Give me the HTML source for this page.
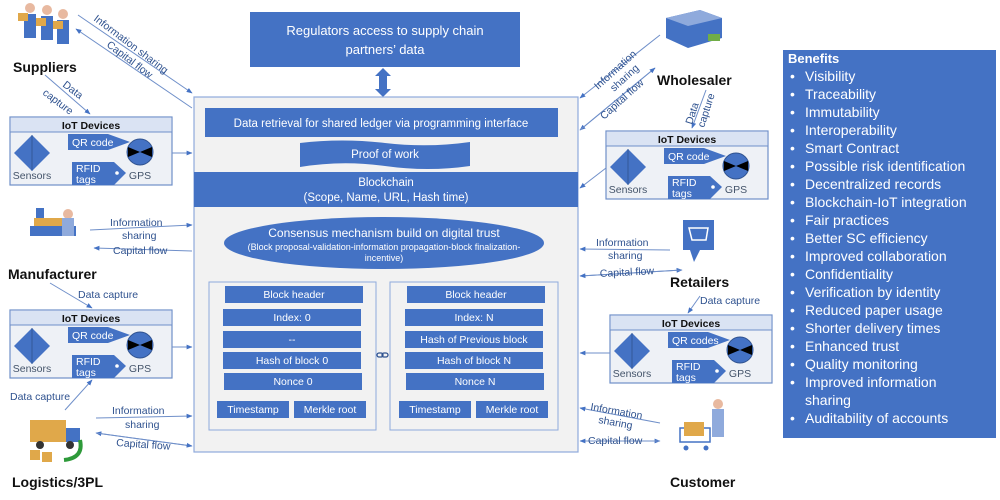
<!DOCTYPE html>
<html><head><meta charset="utf-8"><style>
html,body{margin:0;padding:0;background:#fff;}
svg{display:block;font-family:"Liberation Sans",sans-serif;}
</style></head><body>
<svg width="1000" height="500" viewBox="0 0 1000 500" xmlns="http://www.w3.org/2000/svg">
<defs>
<marker id="ah" viewBox="0 0 10 10" refX="9" refY="5" markerWidth="6" markerHeight="6" orient="auto-start-reverse"><path d="M0,1 L10,5 L0,9 z" fill="#4472c4"/></marker>
<g id="iotshapes">
  <rect x="0" y="0" width="162" height="68" fill="#eef1f6" stroke="#6f8fc9" stroke-width="1.2"/>
  <rect x="0.6" y="0.6" width="160.8" height="14" fill="#dae3f3"/>
  <line x1="0" y1="15" x2="162" y2="15" stroke="#6f8fc9"/>
  <path d="M22,18 L40,36 L22,54 L4,36 z" fill="#4472c4"/>
  <line x1="22" y1="18" x2="22" y2="54" stroke="#2f528f" stroke-width="0.8"/>
  <path d="M58,17 L98,17 L120,25 L98,33 L58,33 z" fill="#4472c4"/>
  <circle cx="130" cy="35" r="13" fill="#4472c4" stroke="#2f528f"/>
  <path d="M118,30 L130,35 L118,40 z M142,30 L130,35 L142,40 z" fill="#000"/>
  <path d="M62,45 L104,45 L116,56 L104,68 L62,68 z" fill="#4472c4"/>
  <circle cx="107" cy="56" r="1.8" fill="#fff"/>
</g>
</defs>

<!-- Regulators -->
<rect x="250" y="12" width="270" height="55" fill="#4472c4"/>
<text x="385" y="35" font-size="13" fill="#fff" text-anchor="middle">Regulators access to supply chain</text>
<text x="385" y="54" font-size="13" fill="#fff" text-anchor="middle">partners’ data</text>
<path d="M383,68 L391,76 L387,76 L387,89 L391,89 L383,97 L375,89 L379,89 L379,76 L375,76 z" fill="#4472c4"/>

<!-- main box -->
<rect x="194" y="97" width="384" height="355" fill="#f2f2f2" stroke="#8faadc" stroke-width="1.2"/>
<rect x="205" y="108" width="353" height="29" fill="#4472c4"/>
<text x="381" y="127" font-size="11.5" fill="#fff" text-anchor="middle">Data retrieval for shared ledger via programming interface</text>
<path d="M300,143 Q342,138 385,143 Q428,148 470,142 L470,166 Q428,172 385,166 Q342,160 300,167 z" fill="#4472c4"/>
<text x="385" y="158" font-size="11.5" fill="#fff" text-anchor="middle">Proof of work</text>
<rect x="194" y="172" width="384" height="35" fill="#4472c4"/>
<text x="386" y="186" font-size="11.5" fill="#fff" text-anchor="middle">Blockchain</text>
<text x="386" y="201" font-size="11.5" fill="#fff" text-anchor="middle">(Scope, Name, URL, Hash time)</text>
<ellipse cx="384" cy="243" rx="160" ry="26" fill="#4472c4"/>
<text x="384" y="237" font-size="12" fill="#fff" text-anchor="middle">Consensus mechanism build on digital trust</text>
<text x="384" y="250" font-size="9" fill="#fff" text-anchor="middle">(Block proposal-validation-information propagation-block finalization-</text>
<text x="384" y="261" font-size="9" fill="#fff" text-anchor="middle">incentive)</text>

<!-- blocks -->
<g font-size="10.5" fill="#fff" text-anchor="middle">
<rect x="209" y="282" width="167" height="148" fill="#f2f2f2" stroke="#8faadc"/>
<rect x="390" y="282" width="168" height="148" fill="#f2f2f2" stroke="#8faadc"/>
<rect x="225" y="286" width="138" height="17" fill="#4472c4"/><text x="294" y="298">Block header</text>
<rect x="223" y="309" width="138" height="17" fill="#4472c4"/><text x="292" y="321">Index: 0</text>
<rect x="223" y="331" width="138" height="17" fill="#4472c4"/><text x="292" y="343">--</text>
<rect x="223" y="352" width="138" height="17" fill="#4472c4"/><text x="292" y="364">Hash of block 0</text>
<rect x="224" y="373" width="138" height="17" fill="#4472c4"/><text x="293" y="385">Nonce 0</text>
<rect x="217" y="401" width="72" height="17" fill="#4472c4"/><text x="253" y="413">Timestamp</text>
<rect x="294" y="401" width="72" height="17" fill="#4472c4"/><text x="330" y="413">Merkle root</text>
<rect x="407" y="286" width="138" height="17" fill="#4472c4"/><text x="476" y="298">Block header</text>
<rect x="405" y="309" width="138" height="17" fill="#4472c4"/><text x="474" y="321">Index: N</text>
<rect x="405" y="331" width="138" height="17" fill="#4472c4"/><text x="474" y="343">Hash of Previous block</text>
<rect x="405" y="352" width="138" height="17" fill="#4472c4"/><text x="474" y="364">Hash of block N</text>
<rect x="406" y="373" width="138" height="17" fill="#4472c4"/><text x="475" y="385">Nonce N</text>
<rect x="399" y="401" width="72" height="17" fill="#4472c4"/><text x="435" y="413">Timestamp</text>
<rect x="476" y="401" width="72" height="17" fill="#4472c4"/><text x="512" y="413">Merkle root</text>
</g>
<g fill="none" stroke="#2f528f" stroke-width="1.3"><rect x="377" y="353" width="6" height="4" rx="2"/><rect x="382" y="353" width="6" height="4" rx="2"/></g>

<!-- IoT boxes -->
<g font-size="10.5">
<g transform="translate(10,117)"><use href="#iotshapes"/><text x="81" y="12" font-weight="bold" text-anchor="middle" fill="#111">IoT Devices</text><text x="22" y="62" text-anchor="middle" fill="#44546a">Sensors</text><text x="62" y="29" fill="#fff">QR code</text><text x="130" y="62" text-anchor="middle" fill="#44546a">GPS</text><text x="66" y="55" fill="#fff">RFID</text><text x="66" y="66" fill="#fff">tags</text></g>
<g transform="translate(10,310)"><use href="#iotshapes"/><text x="81" y="12" font-weight="bold" text-anchor="middle" fill="#111">IoT Devices</text><text x="22" y="62" text-anchor="middle" fill="#44546a">Sensors</text><text x="62" y="29" fill="#fff">QR code</text><text x="130" y="62" text-anchor="middle" fill="#44546a">GPS</text><text x="66" y="55" fill="#fff">RFID</text><text x="66" y="66" fill="#fff">tags</text></g>
<g transform="translate(606,131)"><use href="#iotshapes"/><text x="81" y="12" font-weight="bold" text-anchor="middle" fill="#111">IoT Devices</text><text x="22" y="62" text-anchor="middle" fill="#44546a">Sensors</text><text x="62" y="29" fill="#fff">QR code</text><text x="130" y="62" text-anchor="middle" fill="#44546a">GPS</text><text x="66" y="55" fill="#fff">RFID</text><text x="66" y="66" fill="#fff">tags</text></g>
<g transform="translate(610,315)"><use href="#iotshapes"/><text x="81" y="12" font-weight="bold" text-anchor="middle" fill="#111">IoT Devices</text><text x="22" y="62" text-anchor="middle" fill="#44546a">Sensors</text><text x="62" y="29" fill="#fff">QR codes</text><text x="130" y="62" text-anchor="middle" fill="#44546a">GPS</text><text x="66" y="55" fill="#fff">RFID</text><text x="66" y="66" fill="#fff">tags</text></g>
</g>

<!-- connectors -->
<g stroke="#6f8fc9" stroke-width="1" fill="none" marker-end="url(#ah)">
<line x1="78" y1="15" x2="192" y2="93"/>
<line x1="192" y1="108" x2="76" y2="29"/>
<line x1="45" y1="75" x2="90" y2="114"/>
<line x1="172" y1="153" x2="192" y2="153"/>
<line x1="90" y1="230" x2="192" y2="225"/>
<line x1="192" y1="251" x2="94" y2="248"/>
<line x1="50" y1="283" x2="92" y2="308"/>
<line x1="172" y1="347" x2="192" y2="347"/>
<line x1="65" y1="410" x2="92" y2="380"/>
<line x1="96" y1="418" x2="192" y2="416"/>
<line x1="192" y1="446" x2="96" y2="433"/>
<line x1="660" y1="35" x2="580" y2="98"/>
<line x1="655" y1="68" x2="580" y2="130"/>
<line x1="580" y1="130" x2="655" y2="68"/>
<line x1="706" y1="90" x2="692" y2="128"/>
<line x1="606" y1="168" x2="580" y2="188"/>
<line x1="670" y1="250" x2="580" y2="249"/>
<line x1="580" y1="276" x2="682" y2="270"/>
<line x1="682" y1="270" x2="580" y2="276"/>
<line x1="700" y1="296" x2="688" y2="313"/>
<line x1="610" y1="353" x2="580" y2="353"/>
<line x1="660" y1="423" x2="580" y2="408"/>
<line x1="580" y1="441" x2="660" y2="441"/>
<line x1="660" y1="441" x2="580" y2="441"/>
<line x1="96" y1="433" x2="192" y2="446"/>
</g>

<!-- connector labels -->
<g font-size="10.5" fill="#2f528f">
<text transform="translate(93,20) rotate(37)">Information sharing</text>
<text transform="translate(106,46) rotate(37)">Capital flow</text>
<text transform="translate(62,86) rotate(37)">Data</text>
<text transform="translate(42,94) rotate(37)">capture</text>
<text x="110" y="226">Information</text><text x="122" y="239">sharing</text>
<text x="113" y="254">Capital flow</text>
<text x="78" y="298">Data capture</text>
<text x="10" y="400">Data capture</text>
<text x="112" y="414">Information</text><text x="125" y="428">sharing</text>
<text x="116" y="446" transform="rotate(4 116 446)">Capital flow</text>
<text transform="translate(598,90) rotate(-42)">Information</text>
<text transform="translate(614,92) rotate(-42)">sharing</text>
<text transform="translate(604,120) rotate(-42)">Capital flow</text>
<text transform="translate(692,125) rotate(-72)">Data</text>
<text transform="translate(704,128) rotate(-72)">capture</text>
<text x="596" y="246">Information</text><text x="608" y="259">sharing</text>
<text x="600" y="277" transform="rotate(-3 600 277)">Capital flow</text>
<text x="700" y="304">Data capture</text>
<text x="590" y="410" transform="rotate(10 590 410)">Information</text><text x="598" y="423" transform="rotate(10 598 423)">sharing</text>
<text x="588" y="444">Capital flow</text>
</g>

<!-- actor labels -->
<g font-size="14" font-weight="bold" fill="#111">
<text x="13" y="72">Suppliers</text>
<text x="8" y="279">Manufacturer</text>
<text x="12" y="487">Logistics/3PL</text>
<text x="657" y="85">Wholesaler</text>
<text x="670" y="287">Retailers</text>
<text x="670" y="487">Customer</text>
</g>

<!-- actor icons (approx) -->
<g fill="#4472c4">
<circle cx="30" cy="8" r="5" fill="#e8b9a0"/><circle cx="47" cy="10" r="5" fill="#e8b9a0"/><circle cx="63" cy="14" r="5" fill="#e8b9a0"/>
<rect x="24" y="14" width="12" height="24"/><rect x="41" y="16" width="12" height="24"/><rect x="57" y="20" width="12" height="24"/>
<rect x="18" y="13" width="10" height="8" fill="#e0a84a"/><rect x="36" y="18" width="10" height="8" fill="#e0a84a"/><rect x="53" y="21" width="10" height="8" fill="#e0a84a"/>
<path d="M666,18 L700,10 L722,18 L722,38 L688,48 L666,38 z" fill="#4472c4"/>
<path d="M666,18 L700,10 L722,18 L688,26 z" fill="#8faadc"/>
<rect x="708" y="34" width="12" height="7" fill="#70ad47"/>
<rect x="34" y="218" width="38" height="8" fill="#e0a84a"/>
<rect x="30" y="226" width="46" height="10" fill="#4472c4"/>
<circle cx="68" cy="214" r="5" fill="#e8b9a0"/><rect x="62" y="218" width="12" height="18" fill="#8faadc"/>
<rect x="36" y="208" width="8" height="10"/>
<rect x="30" y="420" width="36" height="22" fill="#e0a84a"/>
<rect x="66" y="428" width="14" height="14" fill="#4472c4"/>
<circle cx="40" cy="445" r="4" fill="#333"/><circle cx="70" cy="445" r="4" fill="#333"/>
<rect x="30" y="450" width="10" height="10" fill="#e0a84a"/><rect x="42" y="452" width="10" height="10" fill="#e0a84a"/>
<path d="M64,460 Q84,458 80,440" stroke="#2e9a3a" stroke-width="4" fill="none"/>
<path d="M683,220 L714,220 L714,250 L700,250 L694,262 L690,250 L683,250 z" fill="#4472c4"/>
<path d="M689,228 L708,228 L706,240 L692,240 z" fill="none" stroke="#fff" stroke-width="1.5"/>
<circle cx="718" cy="404" r="5" fill="#e8b9a0"/>
<rect x="712" y="409" width="12" height="28" fill="#8faadc"/>
<rect x="680" y="428" width="30" height="14" fill="none" stroke="#4472c4" stroke-width="1.5"/>
<rect x="684" y="422" width="20" height="14" fill="#e0a84a"/>
<circle cx="686" cy="448" r="2.5"/><circle cx="706" cy="448" r="2.5"/>
</g>

<!-- Benefits -->
<rect x="783" y="50" width="213" height="388" fill="#4472c4"/>
<g font-size="14" fill="#fff">
<text x="788" y="63" font-weight="bold" font-size="13">Benefits</text>
<text x="790" y="81">•</text><text x="805" y="81">Visibility</text>
<text x="790" y="99">•</text><text x="805" y="99">Traceability</text>
<text x="790" y="117">•</text><text x="805" y="117">Immutability</text>
<text x="790" y="135">•</text><text x="805" y="135">Interoperability</text>
<text x="790" y="153">•</text><text x="805" y="153">Smart Contract</text>
<text x="790" y="171">•</text><text x="805" y="171">Possible risk identification</text>
<text x="790" y="189">•</text><text x="805" y="189">Decentralized records</text>
<text x="790" y="207">•</text><text x="805" y="207">Blockchain-IoT integration</text>
<text x="790" y="225">•</text><text x="805" y="225">Fair practices</text>
<text x="790" y="243">•</text><text x="805" y="243">Better SC efficiency</text>
<text x="790" y="261">•</text><text x="805" y="261">Improved collaboration</text>
<text x="790" y="279">•</text><text x="805" y="279">Confidentiality</text>
<text x="790" y="297">•</text><text x="805" y="297">Verification by identity</text>
<text x="790" y="315">•</text><text x="805" y="315">Reduced paper usage</text>
<text x="790" y="333">•</text><text x="805" y="333">Shorter delivery times</text>
<text x="790" y="351">•</text><text x="805" y="351">Enhanced trust</text>
<text x="790" y="369">•</text><text x="805" y="369">Quality monitoring</text>
<text x="790" y="387">•</text><text x="805" y="387">Improved information</text>
<text x="805" y="405">sharing</text>
<text x="790" y="423">•</text><text x="805" y="423">Auditability of accounts</text>
</g>
</svg>
</body></html>
